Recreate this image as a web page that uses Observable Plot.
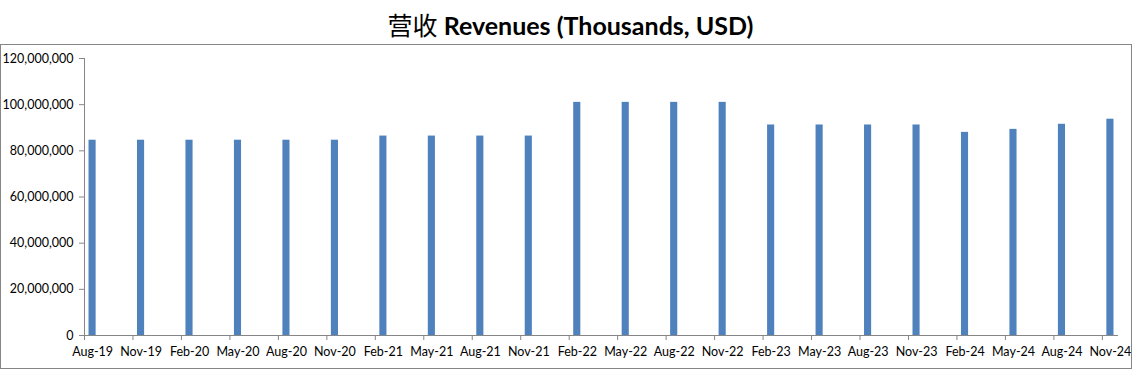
<!DOCTYPE html>
<html>
<head>
<meta charset="utf-8">
<script src="https://cdn.jsdelivr.net/npm/d3@7"></script>
<script src="https://cdn.jsdelivr.net/npm/@observablehq/plot@0.6"></script>
<style>
  html, body { margin: 0; padding: 0; background: #fff; }
  #title {
    width: 1141px; height: 44px; line-height: 48px; text-align: center;
    font-family: Lato, "Noto Sans CJK SC", sans-serif; font-weight: bold; font-size: 25px; color: #000;
  }
  #title .cjk { font-family: "Noto Sans CJK SC", sans-serif; font-weight: normal; }
  #frame {
    width: 1130px; border: 1px solid #868686; box-sizing: content-box;
  }
  #frame svg { display: block; }
</style>
</head>
<body>
<div id="title"><span class="cjk">营收</span> Revenues (Thousands, USD)</div>
<div id="frame"></div>
<script>
const quarters = ["Aug-19","Nov-19","Feb-20","May-20","Aug-20","Nov-20","Feb-21","May-21","Aug-21","Nov-21","Feb-22","May-22","Aug-22","Nov-22","Feb-23","May-23","Aug-23","Nov-23","Feb-24","May-24","Aug-24","Nov-24"];
const revenues = [84600000,84600000,84600000,84600000,84600000,84600000,86400000,86400000,86400000,86400000,101000000,101000000,101000000,101000000,91200000,91200000,91200000,91200000,88000000,89300000,91500000,93700000];
const yTicks = [0,20000000,40000000,60000000,80000000,100000000,120000000];

// monthly date axis: each quarter label sits at month index i*3
const data = quarters.map((q, i) => ({q, m: i * 3, v: revenues[i]}));
const totalMonths = quarters.length * 3 - 2; // Aug-19 .. Nov-24 inclusive = 64 months
const fmt = d3.format(",");

const chart = Plot.plot({
  width: 1130,
  height: 323,
  marginLeft: 83,
  marginRight: 13,
  marginTop: 13,
  marginBottom: 33,
  style: {fontFamily: "Lato, sans-serif", fontSize: "12.5px", color: "#000", background: "#fff"},
  x: {type: "linear", domain: [0, totalMonths], axis: null},
  y: {domain: [0, 120000000], axis: null},
  marks: [
    Plot.rectY(data, {x1: d => d.m + 0.28, x2: d => d.m + 0.72, y: "v", fill: "#4f81bd"}),
    Plot.ruleY([0], {stroke: "#868686"}),
    Plot.ruleX([0], {stroke: "#868686"}),
    Plot.axisY({ticks: yTicks, tickFormat: fmt, tickSize: 5, tickPadding: 6, stroke: "#868686", fill: "#000", label: null}),
    Plot.axisX({ticks: data.map(d => d.m), tickFormat: () => "", tickSize: 5, stroke: "#868686", label: null}),
    Plot.axisX({ticks: data.map(d => d.m + 0.5), tickFormat: (t, i) => quarters[i], tickSize: 0, tickPadding: 12, fill: "#000", label: null})
  ]
});
document.getElementById("frame").appendChild(chart);
</script>
</body>
</html>
